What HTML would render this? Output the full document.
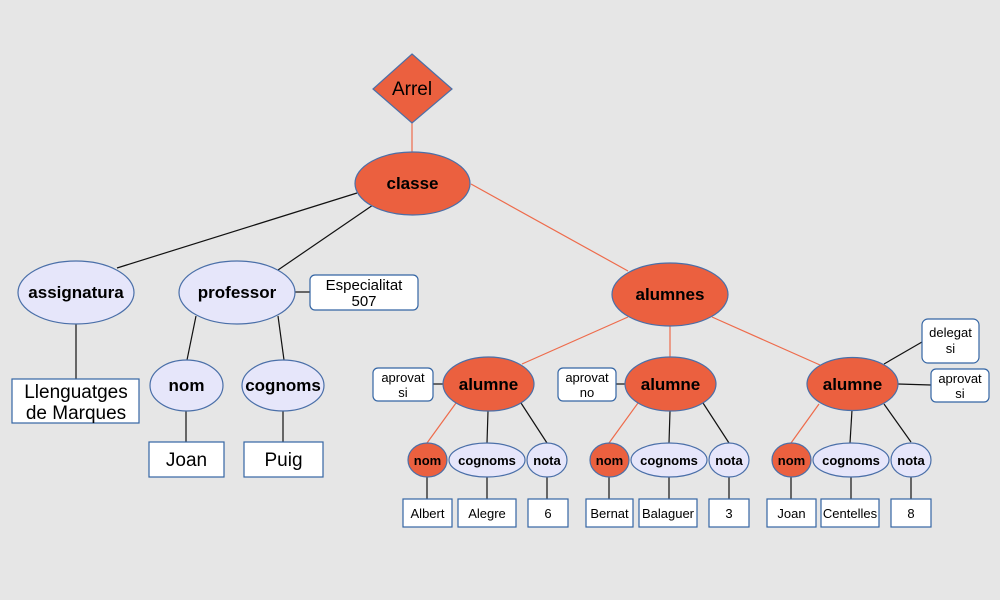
<!DOCTYPE html>
<html><head><meta charset="utf-8"><style>
html,body{margin:0;padding:0;background:#e6e6e6;}
svg{display:block;font-family:"Liberation Sans",sans-serif;}
</style></head><body>
<svg width="1000" height="600" viewBox="0 0 1000 600" xmlns="http://www.w3.org/2000/svg">
<rect width="1000" height="600" fill="#e6e6e6"/>
<g stroke-width="1.2">
<g stroke="#ee6b4b">
<line x1="412" y1="123" x2="412" y2="152"/>
<line x1="471" y1="184" x2="628" y2="271"/>
<line x1="628" y1="317" x2="522" y2="364"/>
<line x1="670" y1="326" x2="670" y2="357"/>
<line x1="712" y1="317" x2="820" y2="365"/>
<line x1="456" y1="403" x2="427" y2="443"/>
<line x1="638" y1="403" x2="609" y2="443"/>
<line x1="819" y1="404" x2="791" y2="443"/>
</g>
<g stroke="#111">
<line x1="117" y1="268" x2="357" y2="193"/>
<line x1="278" y1="270" x2="373" y2="205"/>
<line x1="295" y1="292" x2="310" y2="292"/>
<line x1="76" y1="324" x2="76" y2="379"/>
<line x1="196" y1="316" x2="187" y2="360"/>
<line x1="278" y1="316" x2="284" y2="360"/>
<line x1="186" y1="411" x2="186" y2="442"/>
<line x1="283" y1="411" x2="283" y2="442"/>
<line x1="433" y1="384" x2="443" y2="384"/>
<line x1="488" y1="411" x2="487" y2="443"/>
<line x1="521" y1="403" x2="547" y2="443"/>
<line x1="427" y1="477" x2="427" y2="499"/>
<line x1="487" y1="477" x2="487" y2="499"/>
<line x1="547" y1="477" x2="547" y2="499"/>
<line x1="616" y1="384" x2="625" y2="384"/>
<line x1="670" y1="411" x2="669" y2="443"/>
<line x1="703" y1="403" x2="729" y2="443"/>
<line x1="609" y1="477" x2="609" y2="499"/>
<line x1="669" y1="477" x2="669" y2="499"/>
<line x1="729" y1="477" x2="729" y2="499"/>
<line x1="884" y1="364" x2="922" y2="342"/>
<line x1="898" y1="384" x2="931" y2="385"/>
<line x1="852" y1="410" x2="850" y2="443"/>
<line x1="884" y1="404" x2="911" y2="442"/>
<line x1="791" y1="477" x2="791" y2="499"/>
<line x1="851" y1="477" x2="851" y2="499"/>
<line x1="911" y1="477" x2="911" y2="499"/>
</g>
</g>

<g stroke="#4a6fa8" stroke-width="1.2">
<polygon points="412,54 452,89 412,123 373,89" fill="#eb603f"/>
<ellipse cx="412.5" cy="183.5" rx="57.5" ry="31.5" fill="#eb603f"/>
<ellipse cx="670" cy="294.5" rx="58" ry="31.5" fill="#eb603f"/>
<ellipse cx="76" cy="292.5" rx="58" ry="31.5" fill="#e6e6fa"/>
<ellipse cx="237" cy="292.5" rx="58" ry="31.5" fill="#e6e6fa"/>
<ellipse cx="186.5" cy="385.5" rx="36.5" ry="25.5" fill="#e6e6fa"/>
<ellipse cx="283" cy="385.5" rx="41" ry="25.5" fill="#e6e6fa"/>

<ellipse cx="488.5" cy="384" rx="45.5" ry="27" fill="#eb603f"/>
<ellipse cx="670.5" cy="384" rx="45.5" ry="27" fill="#eb603f"/>
<ellipse cx="852.5" cy="384" rx="45.5" ry="26.5" fill="#eb603f"/>

<ellipse cx="427.5" cy="460" rx="19.5" ry="17" fill="#eb603f"/>
<ellipse cx="487" cy="460" rx="38" ry="17" fill="#e6e6fa"/>
<ellipse cx="547" cy="460" rx="20" ry="17" fill="#e6e6fa"/>
<ellipse cx="609.5" cy="460" rx="19.5" ry="17" fill="#eb603f"/>
<ellipse cx="669" cy="460" rx="38" ry="17" fill="#e6e6fa"/>
<ellipse cx="729" cy="460" rx="20" ry="17" fill="#e6e6fa"/>
<ellipse cx="791.5" cy="460" rx="19.5" ry="17" fill="#eb603f"/>
<ellipse cx="851" cy="460" rx="38" ry="17" fill="#e6e6fa"/>
<ellipse cx="911" cy="460" rx="20" ry="17" fill="#e6e6fa"/>
</g>
<g stroke="#3465a4" stroke-width="1.2" fill="#fff">
<rect x="310" y="275" width="108" height="35" rx="5"/>
<rect x="12" y="379" width="127" height="44"/>
<rect x="149" y="442" width="75" height="35"/>
<rect x="244" y="442" width="79" height="35"/>
<rect x="373" y="368" width="60" height="33" rx="5"/>
<rect x="558" y="368" width="58" height="33" rx="5"/>
<rect x="922" y="319" width="57" height="44" rx="6"/>
<rect x="931" y="369" width="58" height="33" rx="5"/>
<rect x="403" y="499" width="49" height="28"/>
<rect x="458" y="499" width="58" height="28"/>
<rect x="528" y="499" width="40" height="28"/>
<rect x="586" y="499" width="47" height="28"/>
<rect x="639" y="499" width="58" height="28"/>
<rect x="709" y="499" width="40" height="28"/>
<rect x="767" y="499" width="49" height="28"/>
<rect x="821" y="499" width="58" height="28"/>
<rect x="891" y="499" width="40" height="28"/>
</g>

<g fill="#000" text-anchor="middle">
<text x="412" y="95" font-size="19">Arrel</text>
<g font-weight="bold" font-size="17">
<text x="412.5" y="189">classe</text>
<text x="670" y="300">alumnes</text>
<text x="76" y="298">assignatura</text>
<text x="237" y="298">professor</text>
<text x="186.5" y="391">nom</text>
<text x="283" y="391">cognoms</text>
<text x="488.5" y="390">alumne</text>
<text x="670.5" y="390">alumne</text>
<text x="852.5" y="390">alumne</text>
</g>
<g font-weight="bold" font-size="13">
<text x="427.5" y="465">nom</text>
<text x="487" y="465">cognoms</text>
<text x="547" y="465">nota</text>
<text x="609.5" y="465">nom</text>
<text x="669" y="465">cognoms</text>
<text x="729" y="465">nota</text>
<text x="791.5" y="465">nom</text>
<text x="851" y="465">cognoms</text>
<text x="911" y="465">nota</text>
</g>
<g font-size="15">
<text x="364" y="290">Especialitat</text>
<text x="364" y="306">507</text>
</g>
<g font-size="19">
<text x="76" y="398">Llenguatges</text>
<text x="76" y="419">de Marques</text>
<text x="186.5" y="466">Joan</text>
<text x="283.5" y="466">Puig</text>
</g>
<g font-size="13">
<text x="403" y="382">aprovat</text>
<text x="403" y="397">si</text>
<text x="587" y="382">aprovat</text>
<text x="587" y="397">no</text>
<text x="950.5" y="337">delegat</text>
<text x="950.5" y="353">si</text>
<text x="960" y="383">aprovat</text>
<text x="960" y="398">si</text>
<text x="427.5" y="518">Albert</text>
<text x="487" y="518">Alegre</text>
<text x="548" y="518">6</text>
<text x="609.5" y="518">Bernat</text>
<text x="668" y="518">Balaguer</text>
<text x="729" y="518">3</text>
<text x="791.5" y="518">Joan</text>
<text x="850" y="518">Centelles</text>
<text x="911" y="518">8</text>
</g>
</g>
</svg>
</body></html>
